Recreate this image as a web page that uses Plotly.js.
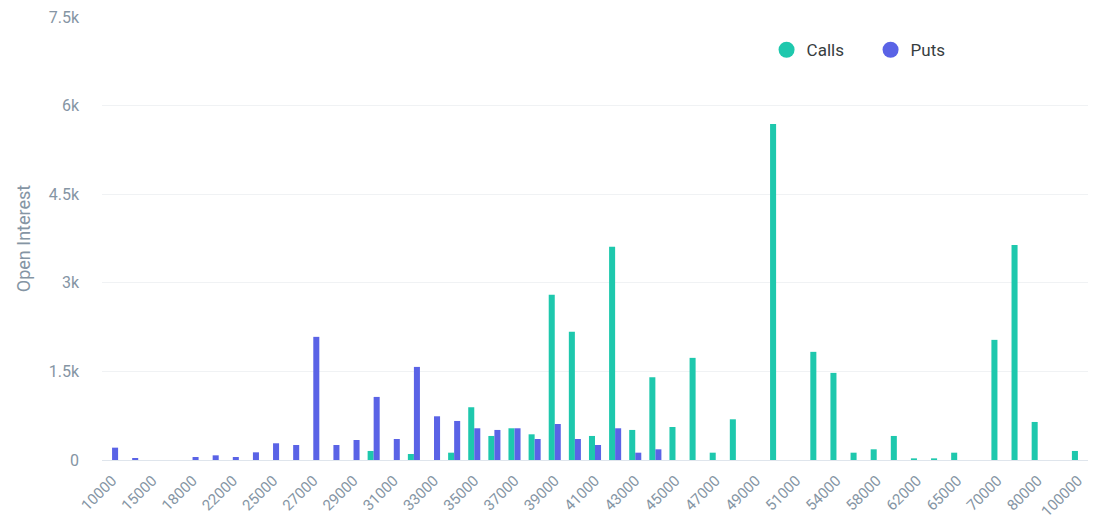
<!DOCTYPE html>
<html>
<head>
<meta charset="utf-8">
<script src="https://cdn.plot.ly/plotly-3.0.1.min.js"></script>
<style>html,body{margin:0;padding:0;background:#fff;}#chart{width:1096px;height:530px;}</style>
</head>
<body>
<div id="chart"></div>
<script>
var strikes = ["10000","12000","15000","16000","18000","20000","22000","24000","25000","26000",
  "27000","28000","29000","30000","31000","32000","33000","34000","35000","36000",
  "37000","38000","39000","40000","41000","42000","43000","44000","45000","46000",
  "47000","48000","49000","50000","51000","52000","54000","56000","58000","60000",
  "62000","64000","65000","68000","70000","75000","80000","90000","100000"];
var callsOI = [0,0,0,0,0,0,0,0,0,0,
  0,0,0,153,0,102,0,124,893,407,
  537,435,2797,2170,407,3610,509,1401,559,1729,
  124,689,0,5690,0,1831,1475,124,181,407,
  28,28,124,0,2034,3640,644,0,153];
var putsOI = [209,34,0,0,51,79,51,130,283,254,
  2085,254,339,1068,356,1576,740,661,537,509,
  537,356,610,356,254,537,124,181,0,0,
  0,0,0,0,0,0,0,0,0,0,
  0,0,0,0,0,0,0,0,0];
var seriesNames = ["Calls","Puts"];
var yTickVals = [0,1500,3000,4500,6000,7500];
var yTickText = ["0","1.5k","3k","4.5k","6k","7.5k"];

var callColor = "#1ec8ad";
var putColor = "#5a63e6";
var tickVals = strikes.filter(function(s,i){return i%2===0;});

var data = [
  {type:"bar", name:seriesNames[0], x:strikes, y:callsOI, marker:{color:callColor}, showlegend:false, hoverinfo:"x+y"},
  {type:"bar", name:seriesNames[1], x:strikes, y:putsOI, marker:{color:putColor}, showlegend:false, hoverinfo:"x+y"},
  {type:"scatter", mode:"markers", name:seriesNames[0], x:[null], y:[null], marker:{color:callColor, size:16, symbol:"circle"}, showlegend:true},
  {type:"scatter", mode:"markers", name:seriesNames[1], x:[null], y:[null], marker:{color:putColor, size:16, symbol:"circle"}, showlegend:true}
];

var tickColor = "#8595a4";
var layout = {
  width:1096, height:530,
  margin:{l:102, r:8, t:17, b:70},
  paper_bgcolor:"#ffffff", plot_bgcolor:"#ffffff",
  font:{family:"Roboto, sans-serif", color:tickColor},
  barmode:"group", bargap:0.4, bargroupgap:0,
  xaxis:{type:"category", categoryorder:"array", categoryarray:strikes,
    tickvals:tickVals, ticktext:tickVals, tickangle:-45, ticklabelstandoff:5,
    tickfont:{size:15, color:tickColor}, showgrid:false, zeroline:false,
    showline:true, linecolor:"#dfe5ec", linewidth:1, ticks:"", fixedrange:true},
  yaxis:{range:[0,7500], tickvals:yTickVals, ticktext:yTickText,
    tickfont:{size:16, color:tickColor}, gridcolor:"#f0f2f4", gridwidth:1,
    zeroline:false, showline:false, ticks:"", ticklabelstandoff:22,
    title:{text:"Open Interest", font:{size:18, color:tickColor}, standoff:13}, fixedrange:true},
  legend:{orientation:"h", x:0.674, y:0.925, xanchor:"left", yanchor:"middle",
    font:{size:17, color:"#373d3f"}, bgcolor:"rgba(0,0,0,0)", itemclick:false,
    entrywidth:59, entrywidthmode:"pixels"},
  showlegend:true
};
Plotly.newPlot("chart", data, layout, {displayModeBar:false, staticPlot:true});
</script>
</body>
</html>
